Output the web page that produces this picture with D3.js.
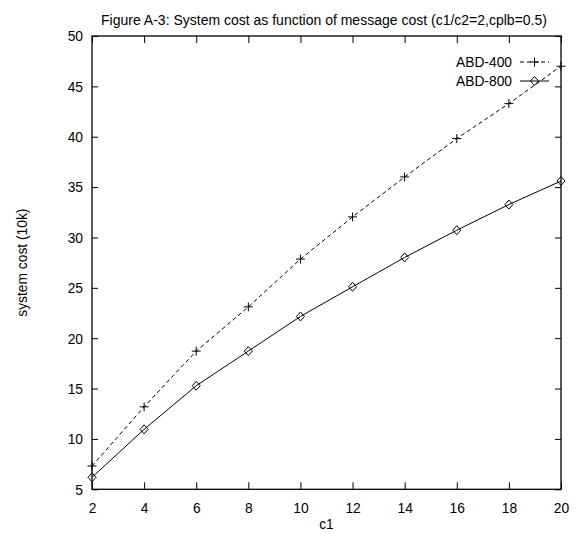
<!DOCTYPE html>
<html><head><meta charset="utf-8">
<script src="https://cdn.jsdelivr.net/npm/d3@7"></script>
<style>body{margin:0;background:#fff}svg{display:block}text{font-family:"Liberation Sans",Arial,sans-serif;fill:#000}</style>
</head><body><svg id="c" width="576" height="534"></svg>
<script>
const title = "Figure A-3: System cost as function of message cost (c1/c2=2,cplb=0.5)";
const xLabel = "c1";
const yLabel = "system cost (10k)";
const c1 = [2,4,6,8,10,12,14,16,18,20];
const abd400 = [7.31,13.19,18.72,23.11,27.85,32.04,36.01,39.82,43.29,47.0];
const abd800 = [6.19,10.95,15.28,18.72,22.16,25.10,28.02,30.72,33.27,35.6];
const seriesNames = ["ABD-400","ABD-800"];
const xTicks = [2,4,6,8,10,12,14,16,18,20];
const yTicks = [5,10,15,20,25,30,35,40,45,50];

const L=92,R=561,T=36,B=489.3;
const svg=d3.select("#c");
const x=d3.scaleLinear().domain([2,20]).range([L,R]);
const y=d3.scaleLinear().domain([5,50]).range([B,T]);

const fs=15, squeeze=0.92;
svg.append("rect").attr("x",L).attr("y",T).attr("width",R-L).attr("height",B-T)
  .attr("fill","none").attr("stroke","#000").attr("stroke-width",1.3);
const ax=svg.append("g").attr("transform",`translate(0,${B})`)
  .call(d3.axisBottom(x).tickValues(xTicks).tickSize(-7).tickPadding(13).tickFormat(d3.format("d")));
const ay=svg.append("g").attr("transform",`translate(${L},0)`)
  .call(d3.axisLeft(y).tickValues(yTicks).tickSize(-6).tickPadding(9).tickFormat(d3.format("d")));
const axt=svg.append("g").attr("transform",`translate(0,${T})`)
  .call(d3.axisTop(x).tickValues(xTicks).tickSize(-7).tickFormat(""));
const ayr=svg.append("g").attr("transform",`translate(${R},0)`)
  .call(d3.axisRight(y).tickValues(yTicks).tickSize(-6).tickFormat(""));
[ax,ay,axt,ayr].forEach(g=>{g.select(".domain").remove();
  g.selectAll(".tick line").attr("stroke","#000").attr("stroke-width",1);
  g.selectAll("text").style("font-size",fs+"px").style("font-family",'"Liberation Sans",Arial,sans-serif').attr("fill","#000");});

const ttl=svg.append("text").attr("x",324).attr("y",25).attr("text-anchor","middle").style("font-size","14px").text(title);
svg.append("text").attr("x",(L+R)/2).attr("y",529).attr("text-anchor","middle").style("font-size",fs+"px").text(xLabel);
svg.append("text").attr("transform",`translate(27,${(T+B)/2}) rotate(-90)`).attr("text-anchor","middle").style("font-size",fs+"px").text(yLabel);

const line=d3.line().x((d,i)=>x(c1[i])).y(d=>y(d));
svg.append("path").datum(abd400).attr("d",line).attr("fill","none").attr("stroke","#000").attr("stroke-width",1).attr("stroke-dasharray","4,3");
svg.append("path").datum(abd800).attr("d",line).attr("fill","none").attr("stroke","#000").attr("stroke-width",1);

function plus(g,cx,cy){g.append("path").attr("d",`M${cx-4.5},${cy}H${cx+4.5}M${cx},${cy-4.5}V${cy+4.5}`).attr("stroke","#000").attr("stroke-width",1).attr("fill","none");}
function diamond(g,cx,cy){g.append("path").attr("d",`M${cx},${cy-4.5}L${cx+4},${cy}L${cx},${cy+4.5}L${cx-4},${cy}Z`).attr("stroke","#000").attr("stroke-width",1).attr("fill","none");}
const pts=svg.append("g");
abd400.forEach((v,i)=>plus(pts,x(c1[i]),y(v)));
abd800.forEach((v,i)=>diamond(pts,x(c1[i]),y(v)));

const lg=svg.append("g");
const lx1=520,lx2=549,lm=(lx1+lx2)/2;
[62,81].forEach((ly,i)=>{
  lg.append("text").attr("x",512).attr("y",ly+5).attr("text-anchor","end").style("font-size",fs+"px").text(seriesNames[i]);
  lg.append("line").attr("x1",lx1).attr("x2",lx2).attr("y1",ly).attr("y2",ly).attr("stroke","#000").attr("stroke-width",1)
    .attr("stroke-dasharray",i===0?"4,3":null);
  if(i===0) plus(lg,lm,ly); else diamond(lg,lm,ly);
});

// condense short texts slightly horizontally (not the title)
svg.selectAll("text").filter(function(){return this!==ttl.node();}).each(function(){
  const w=this.getComputedTextLength();
  if(w>0){d3.select(this).attr("textLength",w*squeeze).attr("lengthAdjust","spacingAndGlyphs");}
});
</script></body></html>
